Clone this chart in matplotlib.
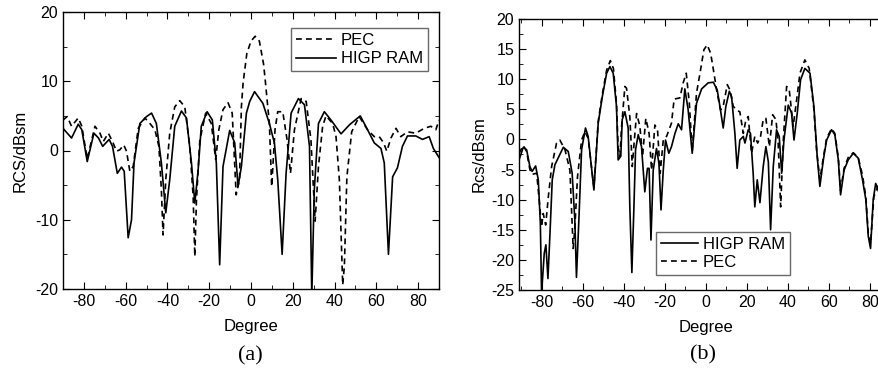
import matplotlib
matplotlib.use("Agg")
import matplotlib.pyplot as plt
from matplotlib.ticker import MultipleLocator

plt.rcParams["font.family"] = ["Liberation Sans", "DejaVu Sans"]
plt.rcParams["axes.unicode_minus"] = False

# (a) RCS vs angle
a_ram_deg = [-90, -85.9, -82.7, -81, -78.4, -75.2, -73, -71, -67.9, -66.3, -64, -62, -60.7, -58.8,
             -57.2, -56, -53.2, -50, -47.6, -45.3, -42.9, -40.8, -38.9, -36.5, -33.3, -30.9, -28.5,
             -26.9, -25.3, -23.8, -21, -18.5, -16.6, -15, -13.4, -10.2, -7.8, -6.2, -4.6, -2.2, -0.6,
             1.7, 5.7, 8.8, 11.2, 12.8, 14.9, 16.8, 19.2, 22.7, 25.6, 28, 29.1, 30.3, 32.3, 35.1,
             38.3, 43.1, 47.1, 52.3, 55.8, 59, 62.2, 63.8, 65.8, 67.8, 70.1, 72.5, 74.9, 78.9, 82.1,
             85.3, 87.3, 90]
a_ram_db = [3.2, 1.8, 3.8, 3.0, -1.6, 2.5, 1.8, 0.6, 1.6, 0.6, -3.3, -2.4, -3.0, -12.6,
            -10, -1.8, 3.9, 4.9, 5.4, 3.9, -1.8, -9.0, -4.2, 3.5, 5.7, 4.7, -1.8,
            -7.6, -2.8, 3.5, 5.6, 4.4, -1.8, -16.5, -2.3, 2.9, 1.1, -5.2, -2.3, 5.4, 7.1,
            8.5, 6.8, 3.9, 1.1, -4.2, -15, -3.3, 5.4, 7.5, 6.6, 0.6, -21, -5.7, 3.9, 5.6,
            4.4, 2.4, 3.7, 5.0, 3.0, 1.1, 0.3, -1.8, -15, -3.8, -2.5, 0.6, 2.1, 2.1, 1.6,
            2.0, 0.3, -1.0]
a_pec_deg = [-90, -88, -85.9, -82.7, -81, -78.4, -74.7, -72.3, -70.7, -68.3, -66.3, -64.4, -62.8,
             -60.9, -59.6, -58, -56.4, -54, -50.8, -48.4, -46, -44.1, -42.9, -42.1, -40.8, -38.9,
             -36.5, -34.1, -31.7, -29.3, -27.7, -26.9, -26.1, -24.5, -21.7, -19, -16.9, -15.4,
             -13.4, -11, -9, -7.1, -5.5, -4.6, -3.8, -2, 0, 2, 4, 6, 6.8, 8.8, 9.9, 11.5, 12.8,
             15.2, 17.3, 18.9, 20.8, 24, 26.4, 28.7, 30.7, 32.3, 34.3, 35.9, 39.1, 40.7, 42.3,
             43.9, 44.7, 45.9, 48.2, 51.8, 55.8, 59, 61.4, 63.5, 65, 67, 69.4, 71.7, 74.9, 78.9,
             82.9, 86.1, 88.5, 90]
a_pec_db = [4.4, 4.9, 3.5, 4.7, 3.5, -1.2, 3.5, 2.5, 1.3, 2.5, 1.3, -0.1, 0.1,
            0.8, -0.1, -3, -2.3, 3.2, 4.7, 3.9, 3.0, 0.6, -5.7, -12.2, -4.2, 2.5,
            6.3, 7.2, 6.3, 0.6, -6.6, -15.3, -7.1, 1.5, 5.4, 3.9, -1.3, 3.0,
            5.9, 6.9, 5.4, -6.4, -4.2, 6.3, 9.7, 14, 15.8, 16.5, 15.8, 12.5, 10.2, 3.9, -5.2, 3.0, 5.6,
            5.6, 1.5, -3.3, 3.0, 7.5, 7.1, 1.5, -10.2, -2.3, 3.5, 5.0, 3.9, 2.0, -4.2,
            -19.4, -16.7, -3.8, 2.7, 4.9, 3.0, 2.0, 2.0, 1.1, -0.1, 1.8, 3.2, 2.0, 2.7, 2.5,
            3.2, 3.5, 3.0, 4.4]

# (b)
b_ram_deg = [-91, -88.9, -87.3, -85.7, -84.6, -82.9, -81.6, -80.6, -80, -78.7, -77.9, -76.9, -75.9,
             -74.8, -73.5, -69.4, -67, -65.1, -63.8, -63, -61.7, -60.5, -58.6, -57.3, -54.5, -52.4,
             -50.4, -48.3, -46.7, -45.1, -43.5, -42.7, -41.4, -40.7, -39.4, -37.8, -37, -36, -35,
             -34.2, -32.9, -31.3, -29.7, -28.4, -27.6, -26.7, -25.6, -24, -22.8, -21.8, -20.7, -19.6,
             -18, -16.7, -15, -13.4, -11.8, -10.2, -8.6, -6.6, -4.5, -2, 1.2, 3.7, 5.6, 6.9, 8.5,
             9.8, 11.5, 12.6, 14.2, 15.3, 16.6, 18.3, 19.1, 20.7, 21.8, 23.1, 23.9, 25.1, 26.4, 28,
             29.3, 30.5, 31.6, 32.9, 34.5, 35.8, 37, 38.1, 40.2, 41.8, 43, 44.6, 46.2, 48.3, 50.8,
             52.7, 54.3, 55.6, 57.3, 58.9, 61.3, 62.9, 64.6, 65.7, 67.4, 69.4, 71.9, 74.3, 76.4, 78,
             79.2, 80.3, 81.6, 82.8, 84.5]
b_ram_db = [-3.4, -1.3, -1.7, -4.5, -5.3, -4.4, -6.7, -13.9, -25.6, -18.9, -17.5, -23.1, -15.6,
            -6.7, -4.2, -1.3, -2.0, -5.6, -13.4, -22.9, -12.3, -1.7, 1.9, 0.5, -8.4, 2.7,
            7.1, 11.0, 12.1, 11.0, 5.5, -3.4, -2.8, 3.3, 4.6, 1.9, -11.2, -22.1, -11.2,
            -1.7, 0.8, -1.2, -8.7, -4.8, -4.8, -16.7, -5.1, -1.5, -4, -11.7, -5.1, -0.1,
            -2.3, -1.2, 1.0, 2.6, 1.6, 8.4, 5.0, -2.3, 6.0, 8.4, 9.4, 9.5, 8.2, 5.5, 1.9,
            5.5, 8.0, 7.1, 1.0, -4.8, -0.1, 0.5, -0.6, 1.6, 1.0, -5.6, -11.2, -6.7, -10.5, -4.5,
            -1.2, -3.7, -15.0, -4.5, 1.6, 0.5, -5.6, -0.1, 5.7, 4.4, -0.1, 4.4, 9.9, 11.8, 11.0,
            5.5, -2.8, -7.8, -3.4, -0.1, 1.6, 0.8, -3.4, -9.2, -5.1, -3.4, -2.3, -3.1, -6.7, -10.0,
            -16.1, -18.1, -10.0, -7.3, -8.9]
b_pec_deg = [-91, -88.9, -87.3, -85.7, -84.6, -82.4, -81.3, -80, -79.2, -78, -76.7, -75.1, -72.7,
             -71.1, -68.6, -66.2, -64.6, -63.8, -62.5, -60.5, -58.9, -57.3, -54.5, -52.4, -50.4,
             -48.3, -46.5, -45, -43.5, -42.7, -41.8, -41, -39.4, -38.6, -37, -35.8, -34.8, -33.7,
             -32.1, -30.8, -29.2, -27.6, -26.4, -24.8, -23.5, -22.2, -20.7, -19.1, -16.7, -15.4,
             -12.6, -11, -9.5, -8.0, -6.6, -4.5, -2.8, -0.9, 0.7, 2.4, 4, 5.3, 7.2, 8.5, 10.5,
             11.8, 13.4, 15.3, 16.6, 18.3, 19.6, 20.7, 22.3, 23.9, 25.3, 26.7, 28, 29.3, 31, 32.6,
             34.2, 35.3, 36.5, 37.8, 39.4, 40.7, 42.6, 44.3, 45.9, 48.3, 50.4, 52.7, 54, 55.6,
             57.3, 58.9, 61.3, 62.9, 64.6, 65.7, 67.4, 69.4, 71.9, 74.3, 76.4, 78, 79.2, 80.3,
             81.9, 84.5]
b_pec_db = [-2.3, -1.0, -2.0, -5.0, -5.8, -5.6, -9.5, -14.5, -12.3, -14.2, -9.5, -4.5, -0.6,
            -0.1, -1.7, -5.1, -18.1, -14.8, -6.2, -0.1, 1.3, 0.2, -8.0, 3.0, 7.5,
            11.5, 13.1, 11.8, 6.0, -1.2, -2.8, 2.2, 8.8, 8.5, 3.8, -4.5, -0.1, 4.3,
            2.2, -2.8, 3.5, 1.0, -5.1, 2.4, 1.6, -5.6, -0.1, 0.5, 2.7, 6.7,
            6.9, 9.4, 11.0, 6.0, -2.0, 7.7, 11.0, 14.9, 15.7, 14.3, 11.0, 8.2, 4.9, 5.5, 9.1,
            8.2, 5.5, 4.8, 4.6, 1.0, 3.3, 3.8, -2.3, 0.5, -0.6, 0.5, 3.3, 3.5, -1.2, 4.1,
            3.3, -0.6, -11.2, -0.1, 8.8, 8.2, 2.2, 6.6, 11.0, 13.2, 11.8, 5.0, -1.7, -6.7,
            -3.0, 0.2, 1.8, 1.0, -3.0, -8.5, -4.8, -3.0, -2.2, -3.0, -6.0, -9.5, -15.6, -17.3,
            -9.5, -7.3]

dash = (0, (3.5, 2.5))

fig = plt.figure(figsize=(8.79, 3.72), dpi=100)
ax1 = fig.add_axes([63 / 879, 83 / 372, 376 / 879, 277 / 372])
ax2 = fig.add_axes([519 / 879, 82 / 372, 373.5 / 879, 271 / 372])

ax1.plot(a_pec_deg, a_pec_db, color="black", lw=1.2, ls=dash, label="PEC")
ax1.plot(a_ram_deg, a_ram_db, color="black", lw=1.2, label="HIGP RAM")
ax1.set_xlim(-90, 90)
ax1.set_ylim(-20, 20)
ax1.set_xticks([-80, -60, -40, -20, 0, 20, 40, 60, 80])
ax1.xaxis.set_minor_locator(MultipleLocator(10))
ax1.yaxis.set_major_locator(MultipleLocator(10))
ax1.yaxis.set_minor_locator(MultipleLocator(5))
ax1.set_ylabel("RCS/dBsm", fontsize=12, labelpad=5)
ax1.set_xlabel("Degree", fontsize=12, labelpad=7)
ax1.legend(loc="upper right", bbox_to_anchor=(0.971, 0.942), fontsize=12, frameon=True,
           fancybox=False, edgecolor="#444444", handlelength=2.4, handletextpad=0.3,
           borderpad=0.3, labelspacing=0.2, borderaxespad=0)

ax2.plot(b_ram_deg, b_ram_db, color="black", lw=1.2, label="HIGP RAM")
ax2.plot(b_pec_deg, b_pec_db, color="black", lw=1.2, ls=dash, label="PEC")
ax2.set_xlim(-91, 91)
ax2.set_ylim(-25, 20)
ax2.set_xticks([-80, -60, -40, -20, 0, 20, 40, 60, 80])
ax2.xaxis.set_minor_locator(MultipleLocator(10))
ax2.yaxis.set_major_locator(MultipleLocator(5))
ax2.yaxis.set_minor_locator(MultipleLocator(2.5))
ax2.set_ylabel("Rcs/dBsm", fontsize=12, labelpad=3)
ax2.set_xlabel("Degree", fontsize=12, labelpad=7)
ax2.legend(loc="lower left", bbox_to_anchor=(0.368, 0.055), fontsize=12, frameon=True,
           fancybox=False, edgecolor="#444444", handlelength=2.2, handletextpad=0.3,
           borderpad=0.3, labelspacing=0.2, borderaxespad=0)

for ax in (ax1, ax2):
    ax.tick_params(which="both", direction="in", top=True, right=True, labelsize=11.5)
    ax.tick_params(which="major", length=5)
    ax.tick_params(which="minor", length=3)
    for s in ax.spines.values():
        s.set_linewidth(1.0)
    ax.get_legend().get_frame().set_linewidth(1.0)

fig.text(250 / 879, 1 - 356 / 372, "(a)", family="Liberation Serif", fontsize=16,
         ha="center", va="center")
fig.text(703 / 879, 1 - 355 / 372, "(b)", family="Liberation Serif", fontsize=16,
         ha="center", va="center")

fig.savefig("out.png", dpi=100)
